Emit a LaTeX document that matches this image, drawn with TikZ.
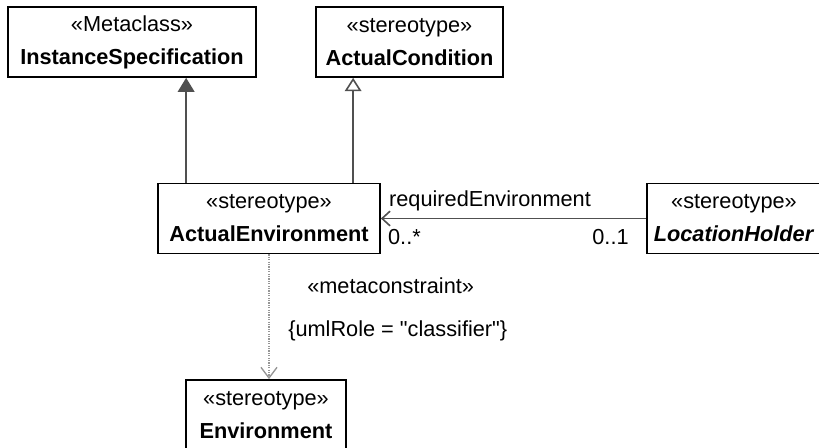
\documentclass[tikz,border=0pt]{standalone}
\usepackage{fontspec}
\setmainfont{Liberation Sans}[Ligatures=TeXOff]
\usepackage{tikz}
\usetikzlibrary{calc}
\usetikzlibrary{arrows.meta}

\definecolor{edgegray}{RGB}{80,80,80}
\definecolor{dotgray}{RGB}{150,150,150}

\begin{document}
\begin{tikzpicture}[x=0.75pt,y=-0.75pt,
	classbox/.style={draw, rectangle, line width=1.3pt, align=center, minimum height=52.5pt, inner sep=2pt, font=\fontsize{16.3}{24.75}\selectfont},
	edgetext/.style={draw=none, fill=none, inner sep=0pt, anchor=base west, font=\fontsize{16.3}{19}\selectfont},
	extension/.style={draw=edgegray, line width=1.2pt, -{Triangle[length=10.5pt,width=12.5pt,fill=edgegray]}},
	generalization/.style={draw=edgegray, line width=1.2pt, -{Triangle[open,length=10pt,width=12.5pt,fill=white]}},
	assoc/.style={draw=edgegray, line width=1.2pt, -{Straight Barb[length=6pt,width=11pt]}},
	metadep/.style={draw=dotgray, line width=1pt, dash pattern=on 1pt off 0.8pt, -{Straight Barb[length=8pt,width=12pt,line width=1pt]}}]
	\useasboundingbox (0,0) rectangle (819,448);
	\coordinate (s) at (132,42);
	\node[classbox, minimum width=186pt] (inst) at (s) {«Metaclass»\\\textbf{InstanceSpecification}};
		\coordinate (s) at ($(s) + (277.5,0)$);
	\node[classbox, minimum width=140.25pt] (cond) at (s) {«stereotype»\\\textbf{ActualCondition}};
		\coordinate (s) at (269,218.5);
	\node[classbox, minimum width=166.5pt] (actenv) at (s) {«stereotype»\\\textbf{ActualEnvironment}};
		\coordinate (s) at ($(s) + (465,0)$);
	\node[classbox, minimum width=130.5pt] (loc) at (s) {«stereotype»\\\textbf{\textit{LocationHolder}}};
		\coordinate (s) at (266,415);
	\node[classbox, minimum width=120pt] (env) at (s) {«stereotype»\\\textbf{Environment}};

		\coordinate (e1) at ($(actenv.north west) + (29,0)$);
		\draw[extension] (e1) -- (e1 |- inst.south);
		\coordinate (e2) at ($(actenv.north west) + (196,0)$);
		\draw[generalization] (e2) -- (e2 |- cond.south);

		\draw[assoc] (loc.west) -- (actenv.east |- loc.west);
		\node[edgetext] (role) at ($(actenv.east) + (8,-12)$) {requiredEnvironment};
		\node[edgetext] (multa) at ($(actenv.east) + (7,26)$) {0..*};
		\node[edgetext] (multb) at ($(loc.west) + (-54,26)$) {0..1};

		\draw[metadep] (actenv.south) -- (actenv.south |- env.north);
		\node[edgetext] (mc) at ($(actenv.south) + (38,39)$) {«metaconstraint»};
		\node[edgetext] (role2) at ($(actenv.south) + (19,82)$) {\{umlRole = "classifier"\}};
\end{tikzpicture}
\end{document}
